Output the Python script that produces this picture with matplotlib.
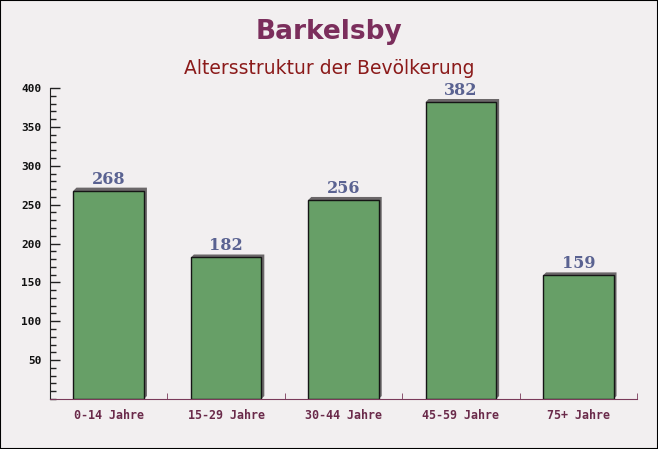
import matplotlib
matplotlib.use("Agg")
import matplotlib.pyplot as plt
from matplotlib.ticker import MultipleLocator, FixedLocator

categories = ["0-14 Jahre", "15-29 Jahre", "30-44 Jahre", "45-59 Jahre", "75+ Jahre"]
values = [268, 182, 256, 382, 159]

W, H = 658, 449
fig = plt.figure(figsize=(W / 100, H / 100), dpi=100)
fig.patch.set_facecolor("#f2eff0")

# Achsen in Pixelkoordinaten
left, right, top, bottom = 50, 637, 88, 399
ax = fig.add_axes([left / W, 1 - bottom / H, (right - left) / W, (bottom - top) / H])
ax.set_facecolor("none")

x = list(range(len(categories)))
bar_w = 0.6
ax.set_xlim(-0.5, len(categories) - 0.5)
ax.set_ylim(0, 400)

# Schatten: 3 px nach rechts und oben versetzt, mit schräger Ecke links
dx = 3 / (right - left) * len(categories)
dy = 3 / (bottom - top) * 400
for i, v in zip(x, values):
    x0, x1 = i - bar_w / 2, i + bar_w / 2
    ax.fill([x0, x0 + dx, x1 + dx, x1 + dx, x1], [v, v + dy, v + dy, dy, 0],
            color="#6b6769", zorder=1, linewidth=0)
ax.bar(x, values, width=bar_w, color="#679f67", edgecolor="#151515", linewidth=1, zorder=2)

for i, v in zip(x, values):
    ax.text(i, v + 4, str(v), ha="center", va="bottom", fontsize=11.5, fontweight="bold",
            family="DejaVu Serif", color="#5a6291", zorder=3)

ax.spines["top"].set_visible(False)
ax.spines["right"].set_visible(False)
ax.spines["left"].set_color("#222222")
ax.spines["bottom"].set_color("#7a3a5a")

ax.yaxis.set_major_locator(FixedLocator([50, 100, 150, 200, 250, 300, 350, 400]))
ax.yaxis.set_minor_locator(MultipleLocator(10))
ax.tick_params(axis="y", which="major", direction="in", length=7, width=1, color="#222222",
               labelsize=8, pad=6)
ax.tick_params(axis="y", which="minor", direction="in", length=4, width=1, color="#222222")
for lab in ax.get_yticklabels():
    lab.set_family("DejaVu Sans Mono")
    lab.set_fontweight("bold")
    lab.set_color("#111111")

ax.set_xticks(x)
ax.set_xticklabels(categories, family="DejaVu Sans Mono", fontweight="bold", fontsize=8.4,
                   color="#6a2a4a")
ax.tick_params(axis="x", which="major", length=0, pad=7)
ax.xaxis.set_minor_locator(FixedLocator([i + 0.5 for i in x]))
ax.tick_params(axis="x", which="minor", direction="in", length=4, color="#7a3a5a")

fig.text(0.5, 1 - 32 / H, "Barkelsby", ha="center", va="center", fontsize=19,
         fontweight="bold", color="#7b2e5c")
fig.text(0.5, 1 - 68 / H, "Altersstruktur der Bevölkerung", ha="center", va="center",
         fontsize=13.5, color="#8b1a1a")

# Rahmen
fig.add_artist(plt.Rectangle((0, 0), 1, 1, transform=fig.transFigure, fill=False,
                             edgecolor="black", linewidth=1.5))

fig.savefig("out.png", dpi=100, facecolor=fig.get_facecolor())
